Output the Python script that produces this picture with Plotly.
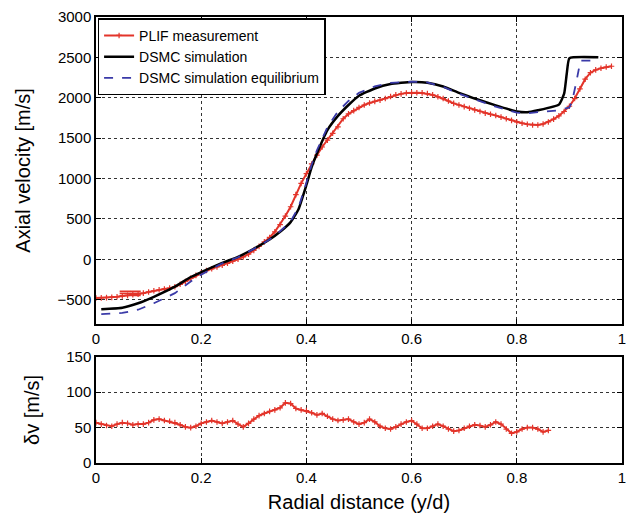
import plotly.graph_objects as go
from plotly.subplots import make_subplots

# ---------------- data ----------------
plif_x = [round(i * 0.01, 2) for i in range(0, 99)]
plif_v = [-480, -478, -475, -472, -465, -455, -448, -440, -433, -420,
          -405, -390, -378, -368, -358, -340, -310, -275, -235, -200,
          -168, -140, -118, -95, -75, -50, -25, 0, 30, 62,
          110, 160, 215, 270, 340, 430, 535, 650, 800, 940,
          1060, 1180, 1290, 1390, 1475, 1560, 1640, 1740, 1800, 1840,
          1880, 1910, 1935, 1955, 1970, 1990, 2015, 2035, 2048, 2058,
          2062, 2062, 2060, 2052, 2035, 2012, 1990, 1960, 1930, 1910,
          1890, 1870, 1850, 1830, 1810, 1795, 1780, 1760, 1740, 1720,
          1700, 1685, 1672, 1663, 1663, 1675, 1700, 1735, 1775, 1830,
          1895, 1990, 2110, 2230, 2310, 2345, 2365, 2380, 2390]

err_x = [0.065, 0.065, 0.065]
err_v = [-395, -420, -450]
err_w = [0.02, 0.02, 0.02]

dsmc_x = [0.01, 0.05, 0.08, 0.11, 0.15, 0.18, 0.20, 0.24, 0.27, 0.30,
          0.33, 0.35, 0.37, 0.385, 0.40, 0.41, 0.42, 0.44, 0.46, 0.48,
          0.50, 0.53, 0.56, 0.60, 0.63, 0.66, 0.69, 0.72, 0.76, 0.80,
          0.82, 0.84, 0.88, 0.89, 0.895, 0.90, 0.955]
dsmc_v = [-620, -600, -545, -465, -340, -220, -160, -45, 30, 130,
          245, 340, 460, 620, 920, 1140, 1310, 1600, 1775, 1910,
          2025, 2115, 2170, 2195, 2187, 2140, 2060, 1990, 1905, 1830,
          1820, 1845, 1915, 2050, 2300, 2490, 2500]

eq_x = [0.01, 0.05, 0.08, 0.11, 0.15, 0.18, 0.20, 0.24, 0.27, 0.30,
        0.33, 0.35, 0.37, 0.385, 0.40, 0.41, 0.42, 0.44, 0.46, 0.48,
        0.50, 0.53, 0.56, 0.60, 0.63, 0.66, 0.69, 0.72, 0.76, 0.80,
        0.82, 0.84, 0.88, 0.90, 0.905, 0.913, 0.921, 0.951]
eq_v = [-680, -665, -625, -545, -420, -275, -190, -50, 25, 128,
        245, 345, 470, 640, 950, 1170, 1350, 1635, 1830, 1960,
        2060, 2140, 2185, 2200, 2190, 2135, 2050, 1980, 1890, 1815,
        1808, 1822, 1845, 1880, 1950, 2190, 2460, 2460]

dv_x = [round(i * 0.01, 2) for i in range(0, 87)]
dv_v = [57, 55, 53, 52, 55, 57, 56, 54, 55, 55,
        57, 61, 62, 60, 59, 57, 54, 51, 50, 52,
        56, 58, 60, 58, 56, 58, 60, 55, 51, 56,
        62, 67, 70, 73, 75, 78, 85, 84, 77, 75,
        74, 71, 68, 70, 66, 62, 60, 61, 62, 58,
        55, 57, 62, 58, 52, 49, 48, 51, 55, 58,
        60, 55, 49, 49, 52, 55, 52, 48, 45, 46,
        49, 52, 54, 53, 51, 54, 58, 55, 48, 42,
        44, 48, 50, 50, 48, 44, 46]

x_ticks = [0, 0.2, 0.4, 0.6, 0.8, 1]
v_ticks = [-500, 0, 500, 1000, 1500, 2000, 2500, 3000]
dv_ticks = [0, 50, 100, 150]

RED = "#e3342a"
BLUE = "#3a3aa8"
FONT = "Liberation Sans, Arial, sans-serif"

fig = make_subplots(rows=2, cols=1)

red_marker = dict(symbol="cross-thin", size=4,
                  line=dict(color=RED, width=1.2), color=RED)

fig.add_trace(go.Scatter(x=plif_x, y=plif_v, mode="lines+markers",
                         name="PLIF measurement",
                         line=dict(color=RED, width=2),
                         marker=red_marker), row=1, col=1)
fig.add_trace(go.Scatter(x=err_x, y=err_v, mode="markers", showlegend=False,
                         marker=dict(size=1, color=RED),
                         error_x=dict(type="data", array=err_w, color=RED,
                                      thickness=1.5, width=0)), row=1, col=1)
fig.add_trace(go.Scatter(x=dsmc_x, y=dsmc_v, mode="lines",
                         name="DSMC simulation",
                         line=dict(color="black", width=2.5, shape="spline",
                                   smoothing=0.4)), row=1, col=1)
fig.add_trace(go.Scatter(x=eq_x, y=eq_v, mode="lines",
                         name="DSMC simulation equilibrium",
                         line=dict(color=BLUE, width=1.8, dash="dash")),
              row=1, col=1)
fig.add_trace(go.Scatter(x=dv_x, y=dv_v, mode="lines+markers", showlegend=False,
                         line=dict(color=RED, width=2),
                         marker=red_marker), row=2, col=1)

axis_common = dict(showline=True, linecolor="black", linewidth=1.5,
                   mirror="ticks", ticks="inside", ticklen=5,
                   tickcolor="black", tickwidth=1.2,
                   showgrid=True, gridcolor="#333333", griddash="dot",
                   gridwidth=1, zeroline=False,
                   tickfont=dict(family=FONT, size=15, color="black"))

title_font = dict(family=FONT, size=20, color="black")

fig.update_xaxes(range=[0, 1], tickvals=x_ticks, **axis_common)
fig.update_xaxes(title=dict(text="Radial distance (y/d)", font=title_font,
                            standoff=10), row=2, col=1)
fig.update_yaxes(range=[-800, 3000], tickvals=v_ticks, domain=[0.312, 1.0],
                 title=dict(text="Axial velocity [m/s]", font=title_font,
                            standoff=21),
                 row=1, col=1, **axis_common)
fig.update_yaxes(range=[0, 150], tickvals=dv_ticks, domain=[0.0, 0.238],
                 title=dict(text="δv [m/s]", font=title_font, standoff=21),
                 row=2, col=1, **axis_common)

fig.update_layout(
    width=629, height=519,
    margin=dict(l=96, r=3, t=17, b=56),
    paper_bgcolor="white", plot_bgcolor="white",
    font=dict(family=FONT, color="black"),
    legend=dict(x=0.003, y=0.997, xanchor="left", yanchor="top",
                bgcolor="white", bordercolor="black", borderwidth=1.5,
                font=dict(family=FONT, size=14, color="black"),
                tracegroupgap=0, itemwidth=30),
)

fig.write_html("out.html")
